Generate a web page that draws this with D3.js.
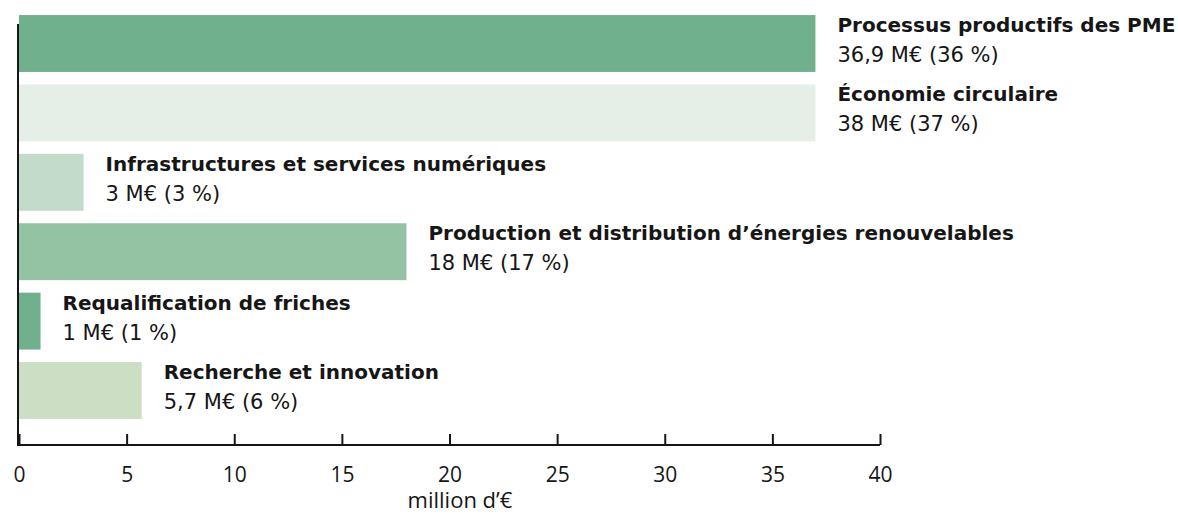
<!DOCTYPE html>
<html>
<head>
<meta charset="utf-8">
<script src="https://cdn.jsdelivr.net/npm/d3@7"></script>
<style>
  body { margin: 0; background: #fff; }
  svg text { fill: #161616; }
</style>
</head>
<body>
<div id="chart"></div>
<script>
// categories, bar values and the labels printed next to them
const categories = [
  "Processus productifs des PME",
  "Économie circulaire",
  "Infrastructures et services numériques",
  "Production et distribution d’énergies renouvelables",
  "Requalification de friches",
  "Recherche et innovation"
];
const barValues = [37, 37, 3, 18, 1, 5.7];
const valueLabels = [
  "36,9 M€ (36 %)",
  "38 M€ (37 %)",
  "3 M€ (3 %)",
  "18 M€ (17 %)",
  "1 M€ (1 %)",
  "5,7 M€ (6 %)"
];
const barColors = ["#70b08c", "#e5efe8", "#c3dbcb", "#94c3a4", "#70b08c", "#ccdfc5"];
const xTicks = [0, 5, 10, 15, 20, 25, 30, 35, 40];
const xTitle = "million d’€";

const W = 1178, H = 515;
const labelFont = "'DejaVu Sans', sans-serif";

const svg = d3.select("#chart").append("svg")
  .attr("width", W)
  .attr("height", H);

const x = d3.scaleLinear().domain([0, 40]).range([19, 880]);
const y = d3.scaleBand()
  .domain(categories)
  .range([8.8, 425.2])
  .paddingInner(0.18)
  .paddingOuter(0.09);

const axisY = 445;

// bars
svg.selectAll("rect.bar")
  .data(categories)
  .enter()
  .append("rect")
  .attr("class", "bar")
  .attr("x", x(0))
  .attr("y", d => y(d))
  .attr("width", (d, i) => x(barValues[i]) - x(0))
  .attr("height", y.bandwidth())
  .style("fill", (d, i) => barColors[i]);

// labels next to each bar
const lab = svg.selectAll("g.lab")
  .data(categories)
  .enter()
  .append("g")
  .attr("class", "lab")
  .attr("transform", (d, i) => "translate(" + (x(barValues[i]) + 22) + "," + y(d) + ")");

lab.append("text")
  .attr("y", 17)
  .style("font-family", labelFont)
  .style("font-weight", "bold")
  .style("font-size", "20px")
  .text(d => d);

lab.append("text")
  .attr("y", 47)
  .style("font-family", labelFont)
  .style("font-size", "21px")
  .text((d, i) => valueLabels[i]);

// x axis, ticks pointing up
const xAxis = svg.append("g")
  .attr("transform", "translate(0," + axisY + ")")
  .call(d3.axisBottom(x).tickValues(xTicks).tickSize(-11).tickSizeOuter(0).tickPadding(22));

xAxis.select(".domain")
  .attr("stroke", "#161616")
  .attr("stroke-width", 2)
  .attr("d", "M" + (x(0) - 1) + ",0H" + x(40));
xAxis.selectAll(".tick line")
  .attr("stroke", "#161616")
  .attr("stroke-width", 2);
xAxis.selectAll(".tick text")
  .style("font-family", "'Open Sans', sans-serif")
  .style("font-size", "21px")
  .attr("dy", "0.71em")
  .style("fill", "#161616");

// y axis line
svg.append("line")
  .attr("x1", 18).attr("x2", 18)
  .attr("y1", 24).attr("y2", axisY + 1)
  .attr("stroke", "#161616")
  .attr("stroke-width", 2);

// axis title
svg.append("text")
  .attr("x", 460)
  .attr("y", 508)
  .attr("text-anchor", "middle")
  .style("font-family", "'Open Sans', sans-serif")
  .style("font-size", "22px")
  .text(xTitle);
</script>
</body>
</html>
